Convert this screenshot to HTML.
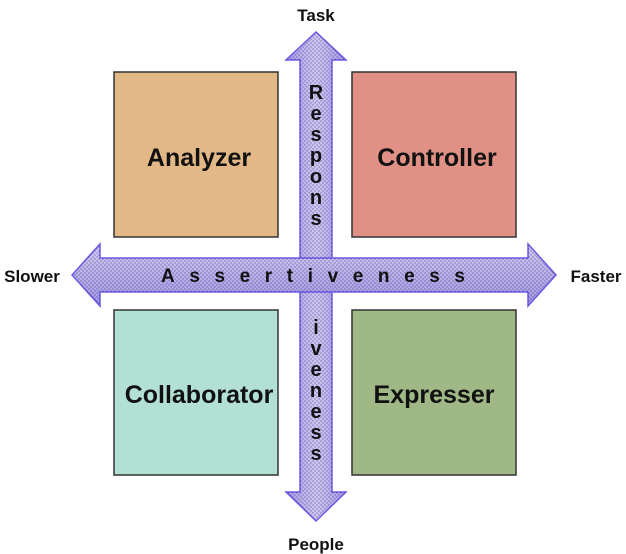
<!DOCTYPE html>
<html><head><style>
html,body{margin:0;padding:0;background:#fff;}
svg{display:block;font-family:"Liberation Sans",Arial,sans-serif;font-weight:bold;}
</style></head><body>
<svg width="626" height="554" viewBox="0 0 626 554" xmlns="http://www.w3.org/2000/svg">
<defs>
<pattern id="dots" width="4" height="4" patternUnits="userSpaceOnUse">
<circle cx="1" cy="1" r="0.7" fill="#3a3070" opacity="0.55"/>
<circle cx="3" cy="3" r="0.7" fill="#3a3070" opacity="0.55"/>
</pattern>
<linearGradient id="gv" x1="0" y1="0" x2="1" y2="0">
<stop offset="0" stop-color="#a89ae6"/><stop offset="0.5" stop-color="#cfc7f2"/><stop offset="1" stop-color="#a89ae6"/>
</linearGradient>
<linearGradient id="gh" x1="0" y1="0" x2="0" y2="1">
<stop offset="0" stop-color="#d4cdf3"/><stop offset="1" stop-color="#a095e2"/>
</linearGradient>
</defs>
<rect x="114" y="72" width="164" height="165" fill="#e2b986" stroke="#333" stroke-width="1.5"/>
<rect x="352" y="72" width="164" height="165" fill="#e09084" stroke="#333" stroke-width="1.5"/>
<rect x="114" y="310" width="164" height="165" fill="#b2e0d4" stroke="#333" stroke-width="1.5"/>
<rect x="352" y="310" width="164" height="165" fill="#a0b886" stroke="#333" stroke-width="1.5"/>
<g font-size="25" text-anchor="middle" fill="#111">
<text x="199" y="166">Analyzer</text>
<text x="437" y="166">Controller</text>
<text x="199" y="403">Collaborator</text>
<text x="434" y="403">Expresser</text>
</g>
<g font-size="17" fill="#111" text-anchor="middle">
<text x="316" y="21">Task</text>
<text x="316" y="550">People</text>
<text x="32" y="282">Slower</text>
<text x="596" y="282">Faster</text>
</g>
<path d="M316 32 L346 60 L332 60 L332 492 L346 492 L316 521 L286 492 L300 492 L300 60 L286 60 Z" fill="url(#gv)" stroke="#6a5ae8" stroke-width="1.5"/>
<path d="M316 32 L346 60 L332 60 L332 492 L346 492 L316 521 L286 492 L300 492 L300 60 L286 60 Z" fill="url(#dots)"/>
<g font-size="20" fill="#111" text-anchor="middle">
<text x="316" y="99">R</text><text x="316" y="120">e</text><text x="316" y="141">s</text><text x="316" y="162">p</text><text x="316" y="183">o</text><text x="316" y="204">n</text><text x="316" y="225">s</text>
<text x="316" y="334">i</text><text x="316" y="355">v</text><text x="316" y="376">e</text><text x="316" y="397">n</text><text x="316" y="418">e</text><text x="316" y="439">s</text><text x="316" y="460">s</text>
</g>
<path d="M72 275 L100 244 L100 258 L528 258 L528 244 L556 275 L528 306 L528 292 L100 292 L100 306 Z" fill="url(#gh)" stroke="#6a5ae8" stroke-width="1.5"/>
<path d="M72 275 L100 244 L100 258 L528 258 L528 244 L556 275 L528 306 L528 292 L100 292 L100 306 Z" fill="url(#dots)"/>
<text x="161" y="282" font-size="19" fill="#111" textLength="304" lengthAdjust="spacing">Assertiveness</text>
</svg>
</body></html>
